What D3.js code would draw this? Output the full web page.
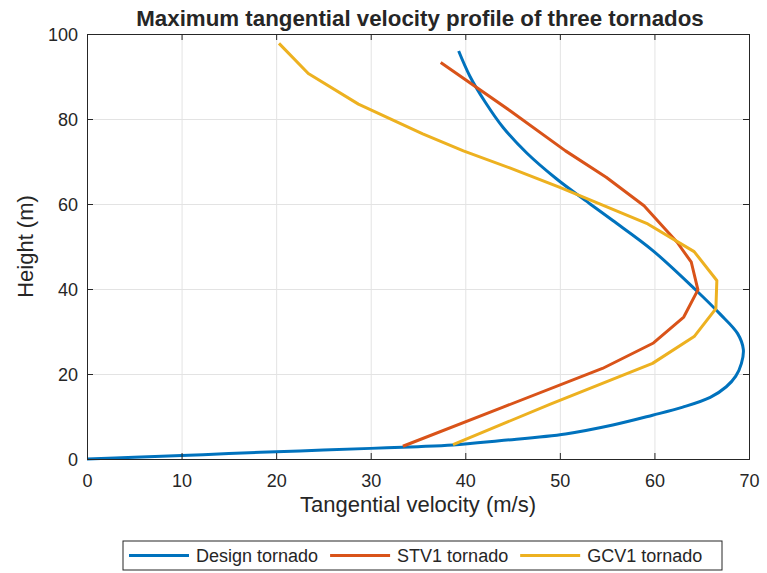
<!DOCTYPE html>
<html>
<head>
<meta charset="utf-8">
<script src="https://cdn.jsdelivr.net/npm/d3@7"></script>
<style>
    body { margin: 0; background: #ffffff; }
    text { font-family: "Liberation Sans", Arial, Helvetica, sans-serif; fill: #262626; }
</style>
</head>
<body>
<svg id="chart" width="767" height="573"></svg>
<script>
// axis ticks
const xTicks = [0, 10, 20, 30, 40, 50, 60, 70];
const yTicks = [0, 20, 40, 60, 80, 100];

// series
const seriesNames = ["Design tornado", "STV1 tornado", "GCV1 tornado"];

const designVelocity = [0, 5, 10, 15, 20, 25, 30, 35, 38.7, 43.6, 50.6, 55.6, 59.8, 63.0, 65.9, 67.6, 68.6, 69.2, 69.4, 68.8, 66.9, 64.4, 59.8, 55.6, 53.2, 49.6, 46.5, 44.0, 42.1, 40.5, 39.3];
const designHeight   = [0, 0.4, 0.8, 1.3, 1.7, 2.1, 2.5, 2.9, 3.3, 4.3, 5.9, 8.0, 10.3, 12.2, 14.5, 17.0, 19.5, 22.5, 25.8, 29.5, 34.2, 39.7, 49.1, 56.1, 60.0, 66.0, 72.0, 78.0, 84.0, 90.0, 96.0];

const stvVelocity = [33.4, 44.0, 54.5, 59.9, 63.1, 64.6, 63.9, 62.4, 58.9, 54.9, 50.6, 44.7, 37.4];
const stvHeight   = [3.0, 12.2, 21.3, 27.3, 33.4, 39.8, 46.3, 51.0, 59.6, 66.3, 72.5, 82.0, 93.3];

const gcvVelocity = [38.7, 49.0, 59.8, 64.2, 66.5, 66.6, 64.2, 59.3, 50.0, 44.7, 39.8, 35.5, 28.7, 23.4, 20.3];
const gcvHeight   = [3.4, 12.9, 22.5, 28.8, 35.4, 42.0, 48.8, 55.3, 63.9, 68.5, 72.5, 76.5, 83.5, 90.7, 97.8];

const Constants = {
    WIDTH: 767, HEIGHT: 573,
    MARGIN: { top: 34, right: 18, bottom: 114, left: 87 },
    COLORS: ["#0072bd", "#d95319", "#edb120"],
    AXIS_COLOR: "#262626",
    GRID_COLOR: "#e3e3e3",
    TICK_SIZE: 6,
    FONT_SIZE: 18
};

const svg = d3.select("#chart");
const m = Constants.MARGIN;
const w = Constants.WIDTH - m.left - m.right;
const h = Constants.HEIGHT - m.top - m.bottom;

const x = d3.scaleLinear().domain([0, 70]).range([0, w]);
const y = d3.scaleLinear().domain([0, 100]).range([h, 0]);

const plot = svg.append("g")
    .attr("transform", "translate(" + m.left + "," + m.top + ")");

// grid
plot.append("g")
    .attr("class", "grid")
    .attr("transform", "translate(0," + h + ")")
    .call(d3.axisBottom(x).tickValues(xTicks).tickSize(-h).tickFormat(""));
plot.append("g")
    .attr("class", "grid")
    .call(d3.axisLeft(y).tickValues(yTicks).tickSize(-w).tickFormat(""));
plot.selectAll(".grid line").attr("stroke", Constants.GRID_COLOR).attr("stroke-width", 1);
plot.selectAll(".grid path.domain").remove();

// series lines
const series = [
    { name: seriesNames[0], vx: designVelocity, hy: designHeight, curve: d3.curveCatmullRom.alpha(0.5) },
    { name: seriesNames[1], vx: stvVelocity, hy: stvHeight, curve: d3.curveLinear },
    { name: seriesNames[2], vx: gcvVelocity, hy: gcvHeight, curve: d3.curveLinear }
];

series.forEach((s, i) => {
    let pts = s.vx.map((v, k) => [v, s.hy[k]]);
    plot.append("path")
        .datum(pts)
        .attr("fill", "none")
        .attr("stroke", Constants.COLORS[i])
        .attr("stroke-width", 3)
        .attr("stroke-linejoin", "round")
        .attr("d", d3.line().x(d => x(d[0])).y(d => y(d[1])).curve(s.curve));
});

// axes (box with inward ticks)
const xAxis = plot.append("g")
    .attr("class", "axis")
    .attr("transform", "translate(0," + h + ")")
    .call(d3.axisBottom(x).tickValues(xTicks).tickSize(-Constants.TICK_SIZE).tickPadding(20));
const yAxis = plot.append("g")
    .attr("class", "axis")
    .call(d3.axisLeft(y).tickValues(yTicks).tickSize(-Constants.TICK_SIZE).tickPadding(9));
plot.append("g")
    .attr("class", "axis")
    .call(d3.axisTop(x).tickValues(xTicks).tickSize(-Constants.TICK_SIZE).tickFormat(""));
plot.append("g")
    .attr("class", "axis")
    .attr("transform", "translate(" + w + ",0)")
    .call(d3.axisRight(y).tickValues(yTicks).tickSize(-Constants.TICK_SIZE).tickFormat(""));

plot.selectAll(".axis path.domain").attr("stroke", Constants.AXIS_COLOR).attr("stroke-width", 1);
plot.selectAll(".axis line").attr("stroke", Constants.AXIS_COLOR).attr("stroke-width", 1);
plot.selectAll(".axis text")
    .attr("font-size", Constants.FONT_SIZE)
    .attr("font-family", "'Liberation Sans', Arial, sans-serif")
    .attr("fill", Constants.AXIS_COLOR);
xAxis.selectAll("text").attr("dy", "0").attr("y", 27.5);
yAxis.selectAll("text").attr("dy", "0.36em");

// labels
svg.append("text")
    .attr("x", m.left + w / 2 + 2)
    .attr("y", 26)
    .attr("text-anchor", "middle")
    .attr("font-size", 22.3)
    .attr("font-weight", "bold")
    .text("Maximum tangential velocity profile of three tornados");

svg.append("text")
    .attr("x", m.left + w / 2)
    .attr("y", 512)
    .attr("text-anchor", "middle")
    .attr("font-size", 22)
    .text("Tangential velocity (m/s)");

svg.append("text")
    .attr("transform", "translate(33," + (m.top + h / 2) + ") rotate(-90)")
    .attr("text-anchor", "middle")
    .attr("font-size", 22)
    .text("Height (m)");

// legend
const legend = svg.append("g").attr("transform", "translate(123,541)");
legend.append("rect")
    .attr("width", 599)
    .attr("height", 29)
    .attr("fill", "#ffffff")
    .attr("stroke", Constants.AXIS_COLOR)
    .attr("stroke-width", 1);

let lx = 6;
series.forEach((s, i) => {
    legend.append("line")
        .attr("x1", lx).attr("x2", lx + 60)
        .attr("y1", 14.5).attr("y2", 14.5)
        .attr("stroke", Constants.COLORS[i])
        .attr("stroke-width", 3);
    let t = legend.append("text")
        .attr("x", lx + 67)
        .attr("y", 14.5)
        .attr("dy", "0.36em")
        .attr("font-size", Constants.FONT_SIZE)
        .text(s.name);
    lx += 67 + t.node().getComputedTextLength() + 12;
});
</script>
</body>
</html>
